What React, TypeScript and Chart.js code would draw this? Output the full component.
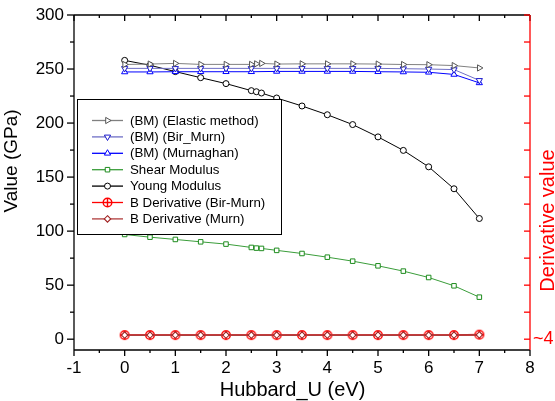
import React, { useEffect, useRef } from 'react';
import { Chart, registerables } from 'chart.js';

Chart.register(...registerables);

// ---------- data ----------
const xFine = [0, 0.5, 1, 1.5, 2, 2.5, 2.6, 2.7, 3, 3.5, 4, 4.5, 5, 5.5, 6, 6.5, 7];
const xHalf = [0, 0.5, 1, 1.5, 2, 2.5, 3, 3.5, 4, 4.5, 5, 5.5, 6, 6.5, 7];

const elasticMethod = [254.2, 254.6, 255.2, 254.3, 254.3, 254.3, 254.8, 255.2, 254.6, 254.8, 254.8, 254.8, 254.6, 254.2, 254.0, 253.2, 251.0];
const birMurn = [250.6, 250.6, 250.6, 250.6, 250.6, 250.6, 250.6, 250.6, 250.6, 250.6, 250.6, 250.3, 250.0, 249.5, 239.5];
const murnaghan = [247.3, 247.3, 247.5, 247.5, 247.5, 247.5, 247.8, 247.8, 247.8, 247.8, 247.5, 247.3, 247.0, 245.0, 237.2];
const shearModulus = [96.9, 94.4, 92.3, 90.1, 88.0, 84.9, 84.3, 84.0, 82.2, 79.3, 75.9, 72.2, 67.9, 63.0, 57.1, 49.4, 38.9];
const youngModulus = [258.0, 253.5, 247.6, 242.0, 236.5, 230.0, 229.0, 227.8, 223.2, 215.8, 207.7, 198.6, 187.2, 174.7, 159.5, 139.2, 111.7];
const bDerivBirMurn = [3.8, 3.8, 3.8, 3.8, 3.8, 3.8, 3.8, 3.8, 3.8, 3.8, 3.8, 3.8, 3.8, 3.8, 4.2];
const bDerivMurn = [3.8, 3.8, 3.8, 3.8, 3.8, 3.8, 3.8, 3.8, 3.8, 3.8, 3.8, 3.8, 3.8, 3.8, 4.0];

const seriesLabels = [
  '(BM) (Elastic method)',
  '(BM) (Bir_Murn)',
  '(BM) (Murnaghan)',
  'Shear Modulus',
  'Young Modulus',
  'B Derivative (Bir-Murn)',
  'B Derivative (Murn)',
];

const xTicks = [-1, 0, 1, 2, 3, 4, 5, 6, 7, 8];
const yTicks = [0, 50, 100, 150, 200, 250, 300];
const rightTicks = [0, 25, 50, 75, 100, 125, 150, 175, 200, 225, 250, 275, 300];
const rightTickLabel = '~4';

const xTitle = 'Hubbard_U (eV)';
const yTitle = 'Value (GPa)';
const y1Title = 'Derivative value';

// ---------- styles ----------
const FONT = '"Liberation Sans", Arial, sans-serif';

type Style = { line: string; marker: string; kind: string; rot: number; r: number; lw: number; order: number };
const styles: Style[] = [
  { line: '#808080', marker: '#555555', kind: 'triangle', rot: 90, r: 3.6, lw: 1, order: 0 },
  { line: '#6f6fc6', marker: '#1a1acc', kind: 'triangle', rot: 180, r: 3.6, lw: 1, order: 0 },
  { line: '#0000ff', marker: '#0000ff', kind: 'triangle', rot: 0, r: 3.6, lw: 1, order: 0 },
  { line: '#3a9d3a', marker: '#1e8c1e', kind: 'rect', rot: 0, r: 3.2, lw: 1, order: 0 },
  { line: '#000000', marker: '#000000', kind: 'circle', rot: 0, r: 3, lw: 1, order: 0 },
  { line: '#ff0000', marker: '#ff0000', kind: 'circleplus', rot: 0, r: 4.3, lw: 1.4, order: 0 },
  { line: '#b03c3c', marker: '#a02020', kind: 'rectRot', rot: 0, r: 3.2, lw: 1.1, order: -1 },
];

function makeCirclePlus(color: string, r: number, lw: number) {
  const size = Math.ceil(2 * r + lw * 2 + 2);
  const c = document.createElement('canvas');
  c.width = size;
  c.height = size;
  const g = c.getContext('2d')!;
  const m = size / 2;
  g.fillStyle = '#ffffff';
  g.strokeStyle = color;
  g.lineWidth = lw;
  g.beginPath();
  g.arc(m, m, r, 0, Math.PI * 2);
  g.fill();
  g.stroke();
  g.beginPath();
  g.moveTo(m - r, m);
  g.lineTo(m + r, m);
  g.moveTo(m, m - r);
  g.lineTo(m, m + r);
  g.stroke();
  return c;
}

function drawMarker(ctx: CanvasRenderingContext2D, s: Style, x: number, y: number) {
  ctx.save();
  ctx.strokeStyle = s.marker;
  ctx.fillStyle = '#ffffff';
  ctx.lineWidth = s.lw;
  const r = s.r;
  ctx.beginPath();
  if (s.kind === 'triangle') {
    let rad = (s.rot * Math.PI) / 180;
    ctx.moveTo(x + Math.sin(rad) * r, y - Math.cos(rad) * r);
    rad += (2 * Math.PI) / 3;
    ctx.lineTo(x + Math.sin(rad) * r, y - Math.cos(rad) * r);
    rad += (2 * Math.PI) / 3;
    ctx.lineTo(x + Math.sin(rad) * r, y - Math.cos(rad) * r);
    ctx.closePath();
  } else if (s.kind === 'rect') {
    const h = Math.SQRT1_2 * r;
    ctx.rect(x - h, y - h, 2 * h, 2 * h);
  } else if (s.kind === 'rectRot') {
    ctx.moveTo(x, y - r);
    ctx.lineTo(x + r, y);
    ctx.lineTo(x, y + r);
    ctx.lineTo(x - r, y);
    ctx.closePath();
  } else {
    ctx.arc(x, y, r, 0, Math.PI * 2);
  }
  ctx.fill();
  ctx.stroke();
  if (s.kind === 'circleplus') {
    ctx.beginPath();
    ctx.moveTo(x - r, y);
    ctx.lineTo(x + r, y);
    ctx.moveTo(x, y - r);
    ctx.lineTo(x, y + r);
    ctx.stroke();
  }
  ctx.restore();
}

const framePlugin = {
  id: 'frame',
  afterDatasetsDraw(chart: any) {
    const { ctx, chartArea: a, scales } = chart;
    const xs = scales.x;
    const ys = scales.y;
    const y1 = scales.y1;
    const seg = (x0: number, yy0: number, x1: number, yy1: number) => {
      ctx.beginPath();
      ctx.moveTo(x0, yy0);
      ctx.lineTo(x1, yy1);
      ctx.stroke();
    };
    ctx.save();
    ctx.strokeStyle = '#000000';
    ctx.lineWidth = 1.3;
    // frame lines
    seg(a.left, a.bottom, a.right, a.bottom);
    seg(a.left, a.top, a.right, a.top);
    seg(a.left, a.top, a.left, a.bottom);
    // x ticks (bottom outward, top inward)
    for (let v = xs.min; v <= xs.max + 1e-9; v += 0.5) {
      const px = xs.getPixelForValue(v);
      const major = Math.abs(v - Math.round(v)) < 1e-9;
      const len = major ? 6 : 3;
      seg(px, a.bottom, px, a.bottom + len);
      seg(px, a.top, px, a.top + len);
    }
    // y ticks (left outward)
    for (let v = 0; v <= ys.max + 1e-9; v += 25) {
      const py = ys.getPixelForValue(v);
      const len = v % 50 === 0 ? 7 : 4;
      seg(a.left - len, py, a.left, py);
    }
    // right axis red
    ctx.strokeStyle = '#ff0000';
    seg(a.right, a.top, a.right, a.bottom);
    rightTicks.forEach((v) => {
      const py = y1.getPixelForValue(v);
      seg(a.right - 6, py, a.right, py);
    });
    ctx.restore();

    // legend box
    const L = 77, T = 99, R = 281, B = 234;
    ctx.save();
    ctx.fillStyle = '#ffffff';
    ctx.fillRect(L, T, R - L, B - T);
    ctx.strokeStyle = '#000000';
    ctx.lineWidth = 1;
    ctx.strokeRect(L + 0.5, T + 0.5, R - L, B - T);
    ctx.font = `13.3px ${FONT}`;
    ctx.textBaseline = 'middle';
    ctx.textAlign = 'left';
    chart.data.datasets.forEach((ds: any, i: number) => {
      const s = styles[i];
      const yy = 120.5 + i * 16.4;
      ctx.strokeStyle = s.line;
      ctx.lineWidth = 1.3;
      seg(92, yy, 123, yy);
      drawMarker(ctx, s, 107.5, yy);
      ctx.fillStyle = '#000000';
      ctx.fillText(ds.label, 130, yy + 0.5);
    });
    ctx.restore();
  },
  afterDraw(chart: any) {
    const { ctx } = chart;
    ctx.save();
    ctx.fillStyle = '#000000';
    ctx.textAlign = 'center';
    ctx.font = `20px ${FONT}`;
    ctx.textBaseline = 'alphabetic';
    ctx.fillText(xTitle, 292.5, 396);
    // left title
    ctx.save();
    ctx.translate(12, 161);
    ctx.rotate(-Math.PI / 2);
    ctx.font = `19px ${FONT}`;
    ctx.textBaseline = 'middle';
    ctx.fillText(yTitle, 0, 0);
    ctx.restore();
    // right title
    ctx.save();
    ctx.translate(548, 220.5);
    ctx.rotate(-Math.PI / 2);
    ctx.font = `20px ${FONT}`;
    ctx.fillStyle = '#ff0000';
    ctx.textBaseline = 'middle';
    ctx.fillText(y1Title, 0, 0);
    ctx.restore();
    ctx.restore();
  },
};

const noPad = (s: any) => {
  s.paddingTop = 0;
  s.paddingBottom = 0;
  s.paddingLeft = 0;
  s.paddingRight = 0;
};

export default function App() {
  const ref = useRef<HTMLCanvasElement>(null);
  useEffect(() => {
    document.body.style.margin = '0';
    const canvas = ref.current!;
    const cp = makeCirclePlus('#ff0000', 4.3, 1.4);

    const pts = (xsArr: number[], ysArr: number[]) => xsArr.map((x, i) => ({ x, y: ysArr[i] }));
    const seriesData = [
      pts(xFine, elasticMethod),
      pts(xHalf, birMurn),
      pts(xHalf, murnaghan),
      pts(xFine, shearModulus),
      pts(xFine, youngModulus),
      pts(xHalf, bDerivBirMurn),
      pts(xHalf, bDerivMurn),
    ];

    const datasets = seriesData.map((data, i) => {
      const s = styles[i];
      const isDeriv = i >= 5;
      return {
        label: seriesLabels[i],
        data,
        order: s.order,
        yAxisID: isDeriv ? 'y1' : 'y',
        borderColor: s.line,
        borderWidth: isDeriv ? 1.6 : 1,
        backgroundColor: '#ffffff',
        pointBackgroundColor: '#ffffff',
        pointBorderColor: s.marker,
        pointBorderWidth: s.lw,
        pointRadius: s.r,
        pointHoverRadius: s.r,
        pointStyle: s.kind === 'circleplus' ? cp : s.kind,
        pointRotation: s.rot,
        tension: 0,
        fill: false,
      };
    });

    const chart = new Chart(canvas, {
      type: 'line',
      data: { datasets } as any,
      plugins: [framePlugin as any],
      options: {
        animation: false,
        responsive: false,
        maintainAspectRatio: false,
        devicePixelRatio: 1,
        layout: { padding: { top: 15, left: 0, right: 0, bottom: 0 } },
        plugins: { legend: { display: false }, tooltip: { enabled: false } },
        scales: {
          x: {
            type: 'linear',
            position: 'bottom',
            min: -1,
            max: 8,
            grid: { display: false, drawTicks: false },
            border: { display: false },
            afterBuildTicks: (s: any) => {
              s.ticks = xTicks.map((v) => ({ value: v }));
            },
            afterFit: (s: any) => {
              s.height = 51;
              noPad(s);
            },
            ticks: {
              color: '#000000',
              font: { family: FONT, size: 17 },
              padding: 8,
              maxRotation: 0,
              autoSkip: false,
              callback: (v: any) => String(v),
            },
          },
          y: {
            type: 'linear',
            position: 'left',
            min: -10,
            max: 300,
            grid: { display: false, drawTicks: false },
            border: { display: false },
            afterBuildTicks: (s: any) => {
              s.ticks = yTicks.map((v) => ({ value: v }));
            },
            afterFit: (s: any) => {
              s.width = 74;
              noPad(s);
            },
            ticks: {
              color: '#000000',
              font: { family: FONT, size: 17 },
              padding: 10,
              callback: (v: any) => String(v),
            },
          },
          y1: {
            type: 'linear',
            position: 'right',
            min: -10,
            max: 300,
            grid: { display: false, drawTicks: false },
            border: { display: false },
            afterBuildTicks: (s: any) => {
              s.ticks = rightTicks.map((v) => ({ value: v }));
            },
            afterFit: (s: any) => {
              s.width = 25;
              noPad(s);
            },
            ticks: {
              color: '#ff0000',
              font: { family: FONT, size: 18 },
              padding: 3,
              autoSkip: false,
              callback: (v: any) => (v === 0 ? rightTickLabel : ''),
            },
          },
        },
      } as any,
    });
    return () => chart.destroy();
  }, []);

  return (
    <div style={{ position: 'absolute', left: 0, top: 0, width: 555, height: 401 }}>
      <canvas ref={ref} width={555} height={401} style={{ width: 555, height: 401, display: 'block' }} />
    </div>
  );
}
